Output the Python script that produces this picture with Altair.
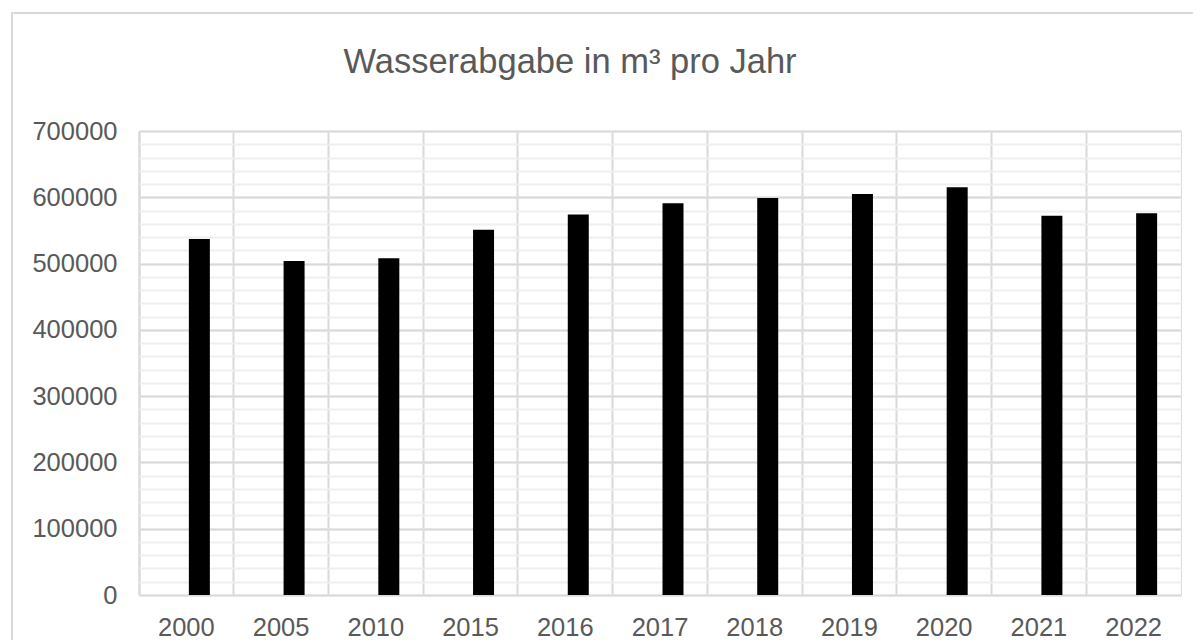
import altair as alt
import pandas as pd

years = ["2000", "2005", "2010", "2015", "2016", "2017", "2018", "2019", "2020", "2021", "2022"]
values = [537000, 504000, 508000, 551000, 574000, 591000, 599000, 605000, 615000, 572000, 576000]

df = pd.DataFrame({"Jahr": years, "Wasserabgabe": values})

FONT = "Liberation Sans"
GRID_MAJOR = "#d9d9d9"
GRID_MINOR = "#efefef"
TXT = "#595959"

x_enc = alt.X(
    "Jahr:N",
    sort=years,
    scale=alt.Scale(paddingInner=0, paddingOuter=0),
    axis=alt.Axis(
        title=None, labelAngle=0, labelFont=FONT, labelFontSize=25.5, labelColor=TXT,
        labelPadding=20, ticks=False, domain=False, grid=True, gridColor=GRID_MAJOR,
        gridWidth=2, bandPosition=0, tickExtra=True,
    ),
)

minor = alt.Chart(df).mark_bar(opacity=0).encode(
    x=x_enc,
    y=alt.Y(
        "Wasserabgabe:Q",
        scale=alt.Scale(domain=[0, 700000], nice=False, zero=True),
        axis=alt.Axis(
            orient="right", values=list(range(0, 700001, 20000)), grid=True,
            gridColor=GRID_MINOR, gridWidth=2, labels=False, ticks=False,
            domain=False, title=None,
        ),
    ),
)

bars = alt.Chart(df).mark_bar(width=21, xOffset=13, color="#000000").encode(
    x=x_enc,
    y=alt.Y(
        "Wasserabgabe:Q",
        scale=alt.Scale(domain=[0, 700000], nice=False, zero=True),
        axis=alt.Axis(
            orient="left", values=list(range(0, 700001, 100000)), format="d",
            grid=True, gridColor=GRID_MAJOR, gridWidth=2, labels=True, ticks=False,
            domain=False, title=None, labelFont=FONT, labelFontSize=25.5,
            labelColor=TXT, labelPadding=22,
        ),
    ),
)

frame = alt.Chart(df).mark_rect(
    fill=None, stroke=GRID_MAJOR, strokeWidth=2, clip=False
).encode(
    x=alt.value(-127), x2=alt.value(1300), y=alt.value(-118), y2=alt.value(800)
)

chart = (
    alt.layer(frame, minor, bars)
    .resolve_axis(y="independent")
    .resolve_scale(y="shared")
    .properties(
        width=1042,
        height=464,
        autosize=alt.AutoSizeParams(type="none"),
        padding={"left": 131, "top": 123, "right": 12, "bottom": 45},
        title=alt.TitleParams(
            "Wasserabgabe in m³ pro Jahr", font=FONT, fontSize=34.5,
            fontWeight="normal", color=TXT, anchor="middle", frame="group",
            orient="none", dx=431, dy=-58, baseline="alphabetic",
        ),
    )
    .configure_view(stroke=GRID_MAJOR, strokeWidth=2)
    .configure(background="white")
)

chart.save("out.html", embed_options={"renderer": "svg", "actions": False})
